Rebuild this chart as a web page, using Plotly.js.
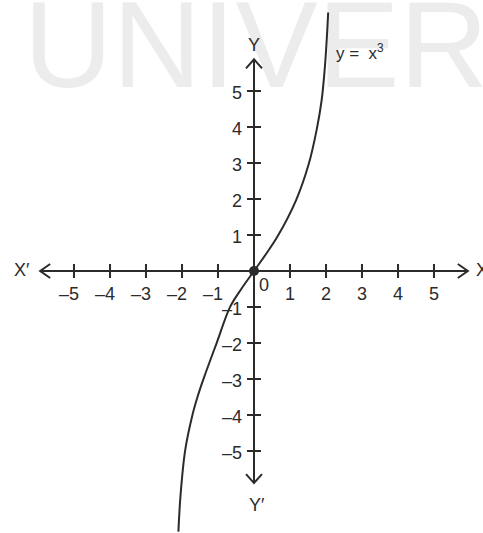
<!DOCTYPE html>
<html><head><meta charset="utf-8">
<script src="https://cdn.plot.ly/plotly-3.0.1.min.js"></script>
<style>html,body{margin:0;padding:0;background:#fff;} #chart{width:483px;height:533px;}</style>
</head><body><div id="chart"></div>
<script>
// ---- data ----
const xTicks = [-5, -4, -3, -2, -1, 1, 2, 3, 4, 5];
const yTicks = [-5, -4, -3, -2, -1, 1, 2, 3, 4, 5];
const curveX = [-2.10, -2.04, -1.91, -1.71, -1.57, -1.40, -1.03, -0.66, -0.34, 0, 0.34, 0.66, 1.17, 1.52, 1.74, 1.88, 1.97, 2.03, 2.06];
const curveY = [-7.24, -6.22, -4.97, -4.00, -3.50, -2.99, -1.98, -0.99, -0.48, 0, 0.48, 0.97, 1.97, 2.97, 3.92, 4.75, 5.68, 6.60, 7.18];
const curveLabel = 'y =  x<sup>3</sup>';
const axisNames = {xPos: 'X', xNeg: 'X\u2032', yPos: 'Y', yNeg: 'Y\u2032'};
const watermark = 'UNIVER';

// ---- layout constants ----
const W = 483, H = 533, U = 36, X0 = 254, Y0 = 271;
const xRange = [-X0 / U, (W - X0) / U];
const yRange = [(Y0 - H) / U, Y0 / U];
const ext = {xmin: -5.94, xmax: 5.94, ymin: -5.89, ymax: 5.88};
const INK = '#2b2b2b';
const FONT = 'Liberation Sans, Arial, Helvetica, sans-serif';
const fmt = v => v < 0 ? '\u2013' + Math.abs(v) : String(v);
const px = p => p / U;

const traces = [
  { // watermark (drawn first, underneath)
    x: [px(256 - X0)], y: [px(Y0 - 56)], mode: 'text', text: [watermark],
    textfont: {family: FONT, size: 123, color: '#ececec'}, textposition: 'middle center',
    hoverinfo: 'skip', showlegend: false, cliponaxis: false
  },
  {
    x: curveX, y: curveY, mode: 'lines', line: {color: INK, width: 2, shape: 'spline', smoothing: 1},
    hoverinfo: 'skip', showlegend: false, cliponaxis: false
  },
  {
    x: [0], y: [0], mode: 'markers', marker: {color: INK, size: 10},
    hoverinfo: 'skip', showlegend: false
  }
];

const shapes = [];
const lineStyle = {color: INK, width: 2};
shapes.push({type: 'line', xref: 'x', yref: 'y', x0: ext.xmin, x1: ext.xmax, y0: 0, y1: 0, line: lineStyle});
shapes.push({type: 'line', xref: 'x', yref: 'y', x0: 0, x1: 0, y0: ext.ymin, y1: ext.ymax, line: lineStyle});
xTicks.forEach(t => shapes.push({type: 'line', xref: 'x', yref: 'y', x0: t, x1: t, y0: -px(7), y1: px(7), line: lineStyle}));
yTicks.forEach(t => shapes.push({type: 'line', xref: 'x', yref: 'y', y0: t, y1: t, x0: -px(7), x1: px(7), line: lineStyle}));
// chevron arrowheads
const chev = (pts) => ({type: 'path', xref: 'x', yref: 'y', line: lineStyle,
  path: 'M' + pts[0][0] + ',' + pts[0][1] + ' L' + pts[1][0] + ',' + pts[1][1] + ' L' + pts[2][0] + ',' + pts[2][1]});
shapes.push(chev([[ext.xmin + px(10), px(7)], [ext.xmin, 0], [ext.xmin + px(10), -px(7)]]));
shapes.push(chev([[ext.xmax - px(10), px(7)], [ext.xmax, 0], [ext.xmax - px(10), -px(7)]]));
shapes.push(chev([[-px(8), ext.ymax - px(9)], [0, ext.ymax], [px(8), ext.ymax - px(9)]]));
shapes.push(chev([[-px(8), ext.ymin + px(9)], [0, ext.ymin], [px(8), ext.ymin + px(9)]]));

const annotations = [];
const tf = {family: FONT, size: 18, color: INK};
const ann = (o) => Object.assign({xref: 'x', yref: 'y', showarrow: false, borderpad: 0, font: tf}, o);
xTicks.forEach(t => annotations.push(ann({
  x: t, y: 0, text: fmt(t), xanchor: t < 0 ? 'right' : 'center', yanchor: 'middle',
  xshift: t < 0 ? 6 : 0, yshift: -23
})));
yTicks.forEach(t => annotations.push(ann({
  x: 0, y: t, text: fmt(t), xanchor: 'right', yanchor: 'middle', xshift: -11, yshift: -2
})));
annotations.push(ann({x: 0, y: 0, text: '0', xanchor: 'center', yanchor: 'middle', xshift: 10, yshift: -14}));
const nf = {family: FONT, size: 18, color: INK};
annotations.push(ann({x: 0, y: ext.ymax, text: axisNames.yPos, font: nf, xanchor: 'center', yanchor: 'middle', yshift: 14}));
annotations.push(ann({x: 0, y: ext.ymin, text: axisNames.yNeg, font: nf, xanchor: 'center', yanchor: 'middle', xshift: 3, yshift: -22}));
annotations.push(ann({x: ext.xmin, y: 0, text: axisNames.xNeg, font: nf, xanchor: 'center', yanchor: 'middle', xshift: -18, yshift: 1}));
annotations.push(ann({x: ext.xmax, y: 0, text: axisNames.xPos, font: nf, xanchor: 'left', yanchor: 'middle', xshift: 7, yshift: 1}));
annotations.push(ann({x: px(335 - X0), y: px(Y0 - 52), text: curveLabel, font: {family: FONT, size: 17, color: INK}, xanchor: 'left', yanchor: 'middle'}));

const layout = {
  width: W, height: H, margin: {l: 0, r: 0, t: 0, b: 0},
  paper_bgcolor: '#fff', plot_bgcolor: '#fff',
  xaxis: {range: xRange, visible: false, fixedrange: true},
  yaxis: {range: yRange, visible: false, fixedrange: true},
  shapes: shapes, annotations: annotations, showlegend: false
};
Plotly.newPlot('chart', traces, layout, {displayModeBar: false, staticPlot: true});
</script>
</body></html>
